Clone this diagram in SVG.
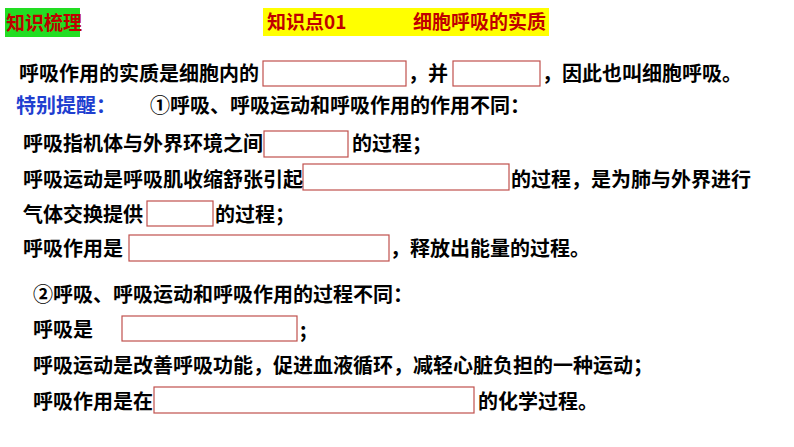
<svg xmlns="http://www.w3.org/2000/svg" width="794" height="447" viewBox="0 0 794 447">
<style>
text{font-family:"Noto Sans CJK SC","Noto Sans",sans-serif;font-weight:bold;font-size:20px;fill:#000}
.r{fill:#c00000;font-size:19px}
.b{fill:#1f3fd0}
.box{fill:#fff;stroke:#c0504d;stroke-width:1.2}
</style>
<rect width="794" height="447" fill="#fff"/>
<g id="header1"><rect x="5" y="8" width="75" height="29" fill="#22dd22"/><text class="r" x="6" y="30">知识梳理</text></g>
<g id="header2"><rect x="263" y="8" width="286" height="28" fill="#ffff00"/><text class="r" x="267" y="29">知识点01</text><text class="r" x="413" y="29">细胞呼吸的实质</text></g>
<g id="blanks">
<rect class="box" x="263" y="61" width="143" height="25"/>
<rect class="box" x="453" y="61" width="87" height="25"/>
<rect class="box" x="264" y="131" width="84" height="26"/>
<rect class="box" x="303" y="164" width="206" height="26"/>
<rect class="box" x="147" y="201" width="66" height="25"/>
<rect class="box" x="129" y="235" width="260" height="26"/>
<rect class="box" x="122" y="316" width="175" height="25"/>
<rect class="box" x="154" y="387" width="320" height="26"/>
</g>
<g id="texts">
<text x="19" y="81">呼吸作用的实质是细胞内的</text>
<text x="408" y="81">，并</text>
<text x="542" y="81">，因此也叫细胞呼吸。</text>
<text class="b" x="16" y="113">特别提醒：</text>
<text x="150" y="113">①呼吸、呼吸运动和呼吸作用的作用不同：</text>
<text x="23" y="151">呼吸指机体与外界环境之间</text>
<text x="352" y="151">的过程；</text>
<text x="23" y="187">呼吸运动是呼吸肌收缩舒张引起</text>
<text x="511" y="187">的过程，是为肺与外界进行</text>
<text x="23" y="222">气体交换提供</text>
<text x="215" y="222">的过程；</text>
<text x="23" y="256">呼吸作用是</text>
<text x="390" y="256">，释放出能量的过程。</text>
<text x="33" y="302">②呼吸、呼吸运动和呼吸作用的过程不同：</text>
<text x="33" y="337">呼吸是</text>
<text x="300" y="337">;</text>
<text x="33" y="373">呼吸运动是改善呼吸功能，促进血液循环，减轻心脏负担的一种运动；</text>
<text x="33" y="409">呼吸作用是在</text>
<text x="478" y="409">的化学过程。</text>
</g>
</svg>
